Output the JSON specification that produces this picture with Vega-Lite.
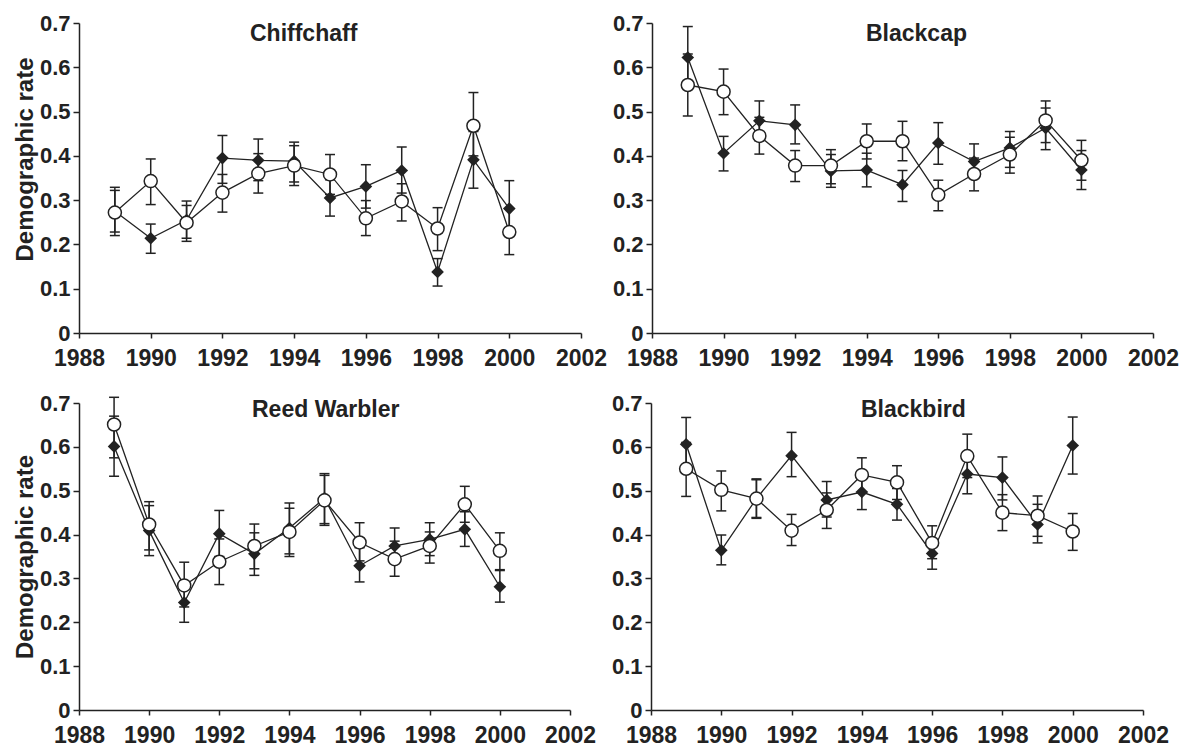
{
  "$schema": "https://vega.github.io/schema/vega-lite/v6.json",
  "padding": {"left": 13, "top": 12, "right": 0, "bottom": 0},
  "background": "white",
  "datasets": {
    "rates": [
      {"sp": "Chiffchaff", "yr": 1989, "s": "d", "v": 0.275, "lo": 0.220, "hi": 0.329},
      {"sp": "Chiffchaff", "yr": 1990, "s": "d", "v": 0.214, "lo": 0.180, "hi": 0.246},
      {"sp": "Chiffchaff", "yr": 1991, "s": "d", "v": 0.255, "lo": 0.214, "hi": 0.298},
      {"sp": "Chiffchaff", "yr": 1992, "s": "d", "v": 0.395, "lo": 0.338, "hi": 0.446},
      {"sp": "Chiffchaff", "yr": 1993, "s": "d", "v": 0.390, "lo": 0.344, "hi": 0.438},
      {"sp": "Chiffchaff", "yr": 1994, "s": "d", "v": 0.388, "lo": 0.341, "hi": 0.431},
      {"sp": "Chiffchaff", "yr": 1995, "s": "d", "v": 0.305, "lo": 0.264, "hi": 0.346},
      {"sp": "Chiffchaff", "yr": 1996, "s": "d", "v": 0.331, "lo": 0.282, "hi": 0.380},
      {"sp": "Chiffchaff", "yr": 1997, "s": "d", "v": 0.367, "lo": 0.316, "hi": 0.420},
      {"sp": "Chiffchaff", "yr": 1998, "s": "d", "v": 0.138, "lo": 0.106, "hi": 0.168},
      {"sp": "Chiffchaff", "yr": 1999, "s": "d", "v": 0.391, "lo": 0.327, "hi": 0.455},
      {"sp": "Chiffchaff", "yr": 2000, "s": "d", "v": 0.281, "lo": 0.220, "hi": 0.344},
      {"sp": "Chiffchaff", "yr": 1989, "s": "c", "v": 0.272, "lo": 0.228, "hi": 0.322},
      {"sp": "Chiffchaff", "yr": 1990, "s": "c", "v": 0.343, "lo": 0.290, "hi": 0.393},
      {"sp": "Chiffchaff", "yr": 1991, "s": "c", "v": 0.249, "lo": 0.207, "hi": 0.288},
      {"sp": "Chiffchaff", "yr": 1992, "s": "c", "v": 0.317, "lo": 0.273, "hi": 0.358},
      {"sp": "Chiffchaff", "yr": 1993, "s": "c", "v": 0.360, "lo": 0.316, "hi": 0.405},
      {"sp": "Chiffchaff", "yr": 1994, "s": "c", "v": 0.378, "lo": 0.333, "hi": 0.423},
      {"sp": "Chiffchaff", "yr": 1995, "s": "c", "v": 0.358, "lo": 0.313, "hi": 0.403},
      {"sp": "Chiffchaff", "yr": 1996, "s": "c", "v": 0.259, "lo": 0.220, "hi": 0.299},
      {"sp": "Chiffchaff", "yr": 1997, "s": "c", "v": 0.297, "lo": 0.253, "hi": 0.337},
      {"sp": "Chiffchaff", "yr": 1998, "s": "c", "v": 0.236, "lo": 0.186, "hi": 0.283},
      {"sp": "Chiffchaff", "yr": 1999, "s": "c", "v": 0.468, "lo": 0.400, "hi": 0.543},
      {"sp": "Chiffchaff", "yr": 2000, "s": "c", "v": 0.228, "lo": 0.177, "hi": 0.280},

      {"sp": "Blackcap", "yr": 1989, "s": "d", "v": 0.622, "lo": 0.553, "hi": 0.692},
      {"sp": "Blackcap", "yr": 1990, "s": "d", "v": 0.406, "lo": 0.366, "hi": 0.444},
      {"sp": "Blackcap", "yr": 1991, "s": "d", "v": 0.479, "lo": 0.434, "hi": 0.524},
      {"sp": "Blackcap", "yr": 1992, "s": "d", "v": 0.470, "lo": 0.427, "hi": 0.515},
      {"sp": "Blackcap", "yr": 1993, "s": "d", "v": 0.366, "lo": 0.329, "hi": 0.403},
      {"sp": "Blackcap", "yr": 1994, "s": "d", "v": 0.368, "lo": 0.330, "hi": 0.406},
      {"sp": "Blackcap", "yr": 1995, "s": "d", "v": 0.335, "lo": 0.297, "hi": 0.367},
      {"sp": "Blackcap", "yr": 1996, "s": "d", "v": 0.429, "lo": 0.381, "hi": 0.475},
      {"sp": "Blackcap", "yr": 1997, "s": "d", "v": 0.387, "lo": 0.350, "hi": 0.427},
      {"sp": "Blackcap", "yr": 1998, "s": "d", "v": 0.418, "lo": 0.374, "hi": 0.455},
      {"sp": "Blackcap", "yr": 1999, "s": "d", "v": 0.463, "lo": 0.414, "hi": 0.508},
      {"sp": "Blackcap", "yr": 2000, "s": "d", "v": 0.368, "lo": 0.324, "hi": 0.412},
      {"sp": "Blackcap", "yr": 1989, "s": "c", "v": 0.560, "lo": 0.490, "hi": 0.630},
      {"sp": "Blackcap", "yr": 1990, "s": "c", "v": 0.545, "lo": 0.493, "hi": 0.596},
      {"sp": "Blackcap", "yr": 1991, "s": "c", "v": 0.445, "lo": 0.404, "hi": 0.487},
      {"sp": "Blackcap", "yr": 1992, "s": "c", "v": 0.378, "lo": 0.342, "hi": 0.412},
      {"sp": "Blackcap", "yr": 1993, "s": "c", "v": 0.378, "lo": 0.337, "hi": 0.414},
      {"sp": "Blackcap", "yr": 1994, "s": "c", "v": 0.433, "lo": 0.393, "hi": 0.472},
      {"sp": "Blackcap", "yr": 1995, "s": "c", "v": 0.433, "lo": 0.389, "hi": 0.478},
      {"sp": "Blackcap", "yr": 1996, "s": "c", "v": 0.312, "lo": 0.276, "hi": 0.345},
      {"sp": "Blackcap", "yr": 1997, "s": "c", "v": 0.359, "lo": 0.321, "hi": 0.395},
      {"sp": "Blackcap", "yr": 1998, "s": "c", "v": 0.403, "lo": 0.361, "hi": 0.442},
      {"sp": "Blackcap", "yr": 1999, "s": "c", "v": 0.480, "lo": 0.430, "hi": 0.524},
      {"sp": "Blackcap", "yr": 2000, "s": "c", "v": 0.390, "lo": 0.345, "hi": 0.435},

      {"sp": "Reed Warbler", "yr": 1989, "s": "d", "v": 0.601, "lo": 0.533, "hi": 0.670},
      {"sp": "Reed Warbler", "yr": 1990, "s": "d", "v": 0.409, "lo": 0.352, "hi": 0.466},
      {"sp": "Reed Warbler", "yr": 1991, "s": "d", "v": 0.245, "lo": 0.200, "hi": 0.290},
      {"sp": "Reed Warbler", "yr": 1992, "s": "d", "v": 0.402, "lo": 0.350, "hi": 0.455},
      {"sp": "Reed Warbler", "yr": 1993, "s": "d", "v": 0.356, "lo": 0.307, "hi": 0.404},
      {"sp": "Reed Warbler", "yr": 1994, "s": "d", "v": 0.415, "lo": 0.356, "hi": 0.472},
      {"sp": "Reed Warbler", "yr": 1995, "s": "d", "v": 0.483, "lo": 0.425, "hi": 0.539},
      {"sp": "Reed Warbler", "yr": 1996, "s": "d", "v": 0.329, "lo": 0.292, "hi": 0.370},
      {"sp": "Reed Warbler", "yr": 1997, "s": "d", "v": 0.374, "lo": 0.335, "hi": 0.415},
      {"sp": "Reed Warbler", "yr": 1998, "s": "d", "v": 0.389, "lo": 0.352, "hi": 0.427},
      {"sp": "Reed Warbler", "yr": 1999, "s": "d", "v": 0.412, "lo": 0.373, "hi": 0.452},
      {"sp": "Reed Warbler", "yr": 2000, "s": "d", "v": 0.281, "lo": 0.246, "hi": 0.318},
      {"sp": "Reed Warbler", "yr": 1989, "s": "c", "v": 0.651, "lo": 0.575, "hi": 0.713},
      {"sp": "Reed Warbler", "yr": 1990, "s": "c", "v": 0.423, "lo": 0.365, "hi": 0.475},
      {"sp": "Reed Warbler", "yr": 1991, "s": "c", "v": 0.284, "lo": 0.235, "hi": 0.337},
      {"sp": "Reed Warbler", "yr": 1992, "s": "c", "v": 0.338, "lo": 0.286, "hi": 0.390},
      {"sp": "Reed Warbler", "yr": 1993, "s": "c", "v": 0.374, "lo": 0.322, "hi": 0.424},
      {"sp": "Reed Warbler", "yr": 1994, "s": "c", "v": 0.406, "lo": 0.350, "hi": 0.460},
      {"sp": "Reed Warbler", "yr": 1995, "s": "c", "v": 0.478, "lo": 0.421, "hi": 0.535},
      {"sp": "Reed Warbler", "yr": 1996, "s": "c", "v": 0.382, "lo": 0.340, "hi": 0.427},
      {"sp": "Reed Warbler", "yr": 1997, "s": "c", "v": 0.344, "lo": 0.305, "hi": 0.385},
      {"sp": "Reed Warbler", "yr": 1998, "s": "c", "v": 0.374, "lo": 0.335, "hi": 0.406},
      {"sp": "Reed Warbler", "yr": 1999, "s": "c", "v": 0.469, "lo": 0.428, "hi": 0.510},
      {"sp": "Reed Warbler", "yr": 2000, "s": "c", "v": 0.363, "lo": 0.320, "hi": 0.404},

      {"sp": "Blackbird", "yr": 1989, "s": "d", "v": 0.606, "lo": 0.545, "hi": 0.667},
      {"sp": "Blackbird", "yr": 1990, "s": "d", "v": 0.364, "lo": 0.331, "hi": 0.399},
      {"sp": "Blackbird", "yr": 1991, "s": "d", "v": 0.482, "lo": 0.439, "hi": 0.525},
      {"sp": "Blackbird", "yr": 1992, "s": "d", "v": 0.580, "lo": 0.532, "hi": 0.633},
      {"sp": "Blackbird", "yr": 1993, "s": "d", "v": 0.479, "lo": 0.440, "hi": 0.521},
      {"sp": "Blackbird", "yr": 1994, "s": "d", "v": 0.497, "lo": 0.457, "hi": 0.536},
      {"sp": "Blackbird", "yr": 1995, "s": "d", "v": 0.469, "lo": 0.433, "hi": 0.505},
      {"sp": "Blackbird", "yr": 1996, "s": "d", "v": 0.357, "lo": 0.321, "hi": 0.390},
      {"sp": "Blackbird", "yr": 1997, "s": "d", "v": 0.538, "lo": 0.493, "hi": 0.580},
      {"sp": "Blackbird", "yr": 1998, "s": "d", "v": 0.530, "lo": 0.479, "hi": 0.577},
      {"sp": "Blackbird", "yr": 1999, "s": "d", "v": 0.423, "lo": 0.381, "hi": 0.469},
      {"sp": "Blackbird", "yr": 2000, "s": "d", "v": 0.603, "lo": 0.538, "hi": 0.668},
      {"sp": "Blackbird", "yr": 1989, "s": "c", "v": 0.550, "lo": 0.487, "hi": 0.610},
      {"sp": "Blackbird", "yr": 1990, "s": "c", "v": 0.502, "lo": 0.454, "hi": 0.545},
      {"sp": "Blackbird", "yr": 1991, "s": "c", "v": 0.482, "lo": 0.437, "hi": 0.527},
      {"sp": "Blackbird", "yr": 1992, "s": "c", "v": 0.409, "lo": 0.375, "hi": 0.446},
      {"sp": "Blackbird", "yr": 1993, "s": "c", "v": 0.456, "lo": 0.414, "hi": 0.495},
      {"sp": "Blackbird", "yr": 1994, "s": "c", "v": 0.536, "lo": 0.497, "hi": 0.575},
      {"sp": "Blackbird", "yr": 1995, "s": "c", "v": 0.519, "lo": 0.480, "hi": 0.557},
      {"sp": "Blackbird", "yr": 1996, "s": "c", "v": 0.381, "lo": 0.345, "hi": 0.420},
      {"sp": "Blackbird", "yr": 1997, "s": "c", "v": 0.579, "lo": 0.530, "hi": 0.629},
      {"sp": "Blackbird", "yr": 1998, "s": "c", "v": 0.450, "lo": 0.409, "hi": 0.491},
      {"sp": "Blackbird", "yr": 1999, "s": "c", "v": 0.443, "lo": 0.396, "hi": 0.488},
      {"sp": "Blackbird", "yr": 2000, "s": "c", "v": 0.407, "lo": 0.364, "hi": 0.448}
    ]
  },
  "data": {"name": "rates"},
  "vconcat": [
    {
      "spacing": 5,
      "hconcat": [
        {
          "width": 502, "height": 310,
          "title": {"text": "Chiffchaff", "dx": 171, "offset": -34},
          "transform": [{"filter": "datum.sp == 'Chiffchaff'"}],
          "encoding": {"x": {"field": "yr", "type": "quantitative", "scale": {"domain": [1988, 2002], "nice": false, "zero": false}, "axis": {"values": [1988, 1990, 1992, 1994, 1996, 1998, 2000, 2002], "format": "d", "title": null}}},
          "layer": [
            {"mark": {"type": "line", "color": "#222", "strokeWidth": 1.3}, "encoding": {"y": {"field": "v", "type": "quantitative", "scale": {"domain": [0, 0.7], "nice": false}, "axis": {"values": [0, 0.1, 0.2, 0.3, 0.4, 0.5, 0.6, 0.7], "labelExpr": "datum.value == 0 ? '0' : format(datum.value, '.1f')", "title": "Demographic rate", "titleY": 136}}, "detail": {"field": "s"}}},
            {"mark": {"type": "rule", "color": "#222", "strokeWidth": 1.5}, "encoding": {"y": {"field": "lo", "type": "quantitative", "title": "Demographic rate"}, "y2": {"field": "hi"}}},
            {"mark": {"type": "point", "shape": "M-1,0L1,0", "size": 100, "filled": false, "stroke": "#222", "strokeWidth": 1.5, "opacity": 1}, "encoding": {"y": {"field": "lo", "type": "quantitative", "title": "Demographic rate"}}},
            {"mark": {"type": "point", "shape": "M-1,0L1,0", "size": 100, "filled": false, "stroke": "#222", "strokeWidth": 1.5, "opacity": 1}, "encoding": {"y": {"field": "hi", "type": "quantitative", "title": "Demographic rate"}}},
            {"transform": [{"filter": "datum.s == 'd'"}], "mark": {"type": "point", "shape": "diamond", "filled": true, "color": "#222", "size": 160, "opacity": 1}, "encoding": {"y": {"field": "v", "type": "quantitative", "title": "Demographic rate"}}},
            {"transform": [{"filter": "datum.s == 'c'"}], "mark": {"type": "point", "shape": "circle", "filled": true, "fill": "white", "stroke": "#222", "strokeWidth": 1.5, "size": 170, "opacity": 1}, "encoding": {"y": {"field": "v", "type": "quantitative", "title": "Demographic rate"}}}
          ]
        },
        {
          "width": 501, "height": 310,
          "title": {"text": "Blackcap", "dx": 214, "offset": -34},
          "transform": [{"filter": "datum.sp == 'Blackcap'"}],
          "encoding": {"x": {"field": "yr", "type": "quantitative", "scale": {"domain": [1988, 2002], "nice": false, "zero": false}, "axis": {"values": [1988, 1990, 1992, 1994, 1996, 1998, 2000, 2002], "format": "d", "title": null}}},
          "layer": [
            {"mark": {"type": "line", "color": "#222", "strokeWidth": 1.3}, "encoding": {"y": {"field": "v", "type": "quantitative", "scale": {"domain": [0, 0.7], "nice": false}, "axis": {"values": [0, 0.1, 0.2, 0.3, 0.4, 0.5, 0.6, 0.7], "labelExpr": "datum.value == 0 ? '0' : format(datum.value, '.1f')", "title": null}}, "detail": {"field": "s"}}},
            {"mark": {"type": "rule", "color": "#222", "strokeWidth": 1.5}, "encoding": {"y": {"field": "lo", "type": "quantitative", "title": null}, "y2": {"field": "hi"}}},
            {"mark": {"type": "point", "shape": "M-1,0L1,0", "size": 100, "filled": false, "stroke": "#222", "strokeWidth": 1.5, "opacity": 1}, "encoding": {"y": {"field": "lo", "type": "quantitative", "title": null}}},
            {"mark": {"type": "point", "shape": "M-1,0L1,0", "size": 100, "filled": false, "stroke": "#222", "strokeWidth": 1.5, "opacity": 1}, "encoding": {"y": {"field": "hi", "type": "quantitative", "title": null}}},
            {"transform": [{"filter": "datum.s == 'd'"}], "mark": {"type": "point", "shape": "diamond", "filled": true, "color": "#222", "size": 160, "opacity": 1}, "encoding": {"y": {"field": "v", "type": "quantitative", "title": null}}},
            {"transform": [{"filter": "datum.s == 'c'"}], "mark": {"type": "point", "shape": "circle", "filled": true, "fill": "white", "stroke": "#222", "strokeWidth": 1.5, "size": 170, "opacity": 1}, "encoding": {"y": {"field": "v", "type": "quantitative", "title": null}}}
          ]
        }
      ]
    },
    {
      "spacing": 15,
      "hconcat": [
        {
          "width": 491, "height": 307,
          "title": {"text": "Reed Warbler", "dx": 173, "offset": -30},
          "transform": [{"filter": "datum.sp == 'Reed Warbler'"}],
          "encoding": {"x": {"field": "yr", "type": "quantitative", "scale": {"domain": [1988, 2002], "nice": false, "zero": false}, "axis": {"values": [1988, 1990, 1992, 1994, 1996, 1998, 2000, 2002], "format": "d", "title": null}}},
          "layer": [
            {"mark": {"type": "line", "color": "#222", "strokeWidth": 1.3}, "encoding": {"y": {"field": "v", "type": "quantitative", "scale": {"domain": [0, 0.7], "nice": false}, "axis": {"values": [0, 0.1, 0.2, 0.3, 0.4, 0.5, 0.6, 0.7], "labelExpr": "datum.value == 0 ? '0' : format(datum.value, '.1f')", "title": "Demographic rate"}}, "detail": {"field": "s"}}},
            {"mark": {"type": "rule", "color": "#222", "strokeWidth": 1.5}, "encoding": {"y": {"field": "lo", "type": "quantitative", "title": "Demographic rate"}, "y2": {"field": "hi"}}},
            {"mark": {"type": "point", "shape": "M-1,0L1,0", "size": 100, "filled": false, "stroke": "#222", "strokeWidth": 1.5, "opacity": 1}, "encoding": {"y": {"field": "lo", "type": "quantitative", "title": "Demographic rate"}}},
            {"mark": {"type": "point", "shape": "M-1,0L1,0", "size": 100, "filled": false, "stroke": "#222", "strokeWidth": 1.5, "opacity": 1}, "encoding": {"y": {"field": "hi", "type": "quantitative", "title": "Demographic rate"}}},
            {"transform": [{"filter": "datum.s == 'd'"}], "mark": {"type": "point", "shape": "diamond", "filled": true, "color": "#222", "size": 160, "opacity": 1}, "encoding": {"y": {"field": "v", "type": "quantitative", "title": "Demographic rate"}}},
            {"transform": [{"filter": "datum.s == 'c'"}], "mark": {"type": "point", "shape": "circle", "filled": true, "fill": "white", "stroke": "#222", "strokeWidth": 1.5, "size": 170, "opacity": 1}, "encoding": {"y": {"field": "v", "type": "quantitative", "title": "Demographic rate"}}}
          ]
        },
        {
          "width": 492, "height": 307,
          "title": {"text": "Blackbird", "dx": 210, "offset": -30},
          "transform": [{"filter": "datum.sp == 'Blackbird'"}],
          "encoding": {"x": {"field": "yr", "type": "quantitative", "scale": {"domain": [1988, 2002], "nice": false, "zero": false}, "axis": {"values": [1988, 1990, 1992, 1994, 1996, 1998, 2000, 2002], "format": "d", "title": null}}},
          "layer": [
            {"mark": {"type": "line", "color": "#222", "strokeWidth": 1.3}, "encoding": {"y": {"field": "v", "type": "quantitative", "scale": {"domain": [0, 0.7], "nice": false}, "axis": {"values": [0, 0.1, 0.2, 0.3, 0.4, 0.5, 0.6, 0.7], "labelExpr": "datum.value == 0 ? '0' : format(datum.value, '.1f')", "title": null}}, "detail": {"field": "s"}}},
            {"mark": {"type": "rule", "color": "#222", "strokeWidth": 1.5}, "encoding": {"y": {"field": "lo", "type": "quantitative", "title": null}, "y2": {"field": "hi"}}},
            {"mark": {"type": "point", "shape": "M-1,0L1,0", "size": 100, "filled": false, "stroke": "#222", "strokeWidth": 1.5, "opacity": 1}, "encoding": {"y": {"field": "lo", "type": "quantitative", "title": null}}},
            {"mark": {"type": "point", "shape": "M-1,0L1,0", "size": 100, "filled": false, "stroke": "#222", "strokeWidth": 1.5, "opacity": 1}, "encoding": {"y": {"field": "hi", "type": "quantitative", "title": null}}},
            {"transform": [{"filter": "datum.s == 'd'"}], "mark": {"type": "point", "shape": "diamond", "filled": true, "color": "#222", "size": 160, "opacity": 1}, "encoding": {"y": {"field": "v", "type": "quantitative", "title": null}}},
            {"transform": [{"filter": "datum.s == 'c'"}], "mark": {"type": "point", "shape": "circle", "filled": true, "fill": "white", "stroke": "#222", "strokeWidth": 1.5, "size": 170, "opacity": 1}, "encoding": {"y": {"field": "v", "type": "quantitative", "title": null}}}
          ]
        }
      ]
    }
  ],
  "spacing": 22,
  "config": {
    "view": {"stroke": null},
    "font": "Liberation Sans",
    "axis": {
      "grid": false,
      "domainColor": "#222",
      "domainWidth": 1.5,
      "tickColor": "#222",
      "tickWidth": 1.5,
      "labelColor": "#222",
      "labelFont": "Liberation Sans",
      "labelFontWeight": "bold",
      "labelOverlap": false,
      "labelBound": false,
      "labelFlush": false,
      "titleColor": "#222",
      "titleFont": "Liberation Sans",
      "titleFontWeight": "bold",
      "titleFontSize": 24,
      "titlePadding": 2
    },
    "axisX": {"tickSize": 5, "labelPadding": 9, "labelFontSize": 23},
    "axisY": {"tickSize": 6, "labelPadding": 3, "labelFontSize": 22},
    "title": {
      "anchor": "start",
      "frame": "group",
      "baseline": "top",
      "font": "Liberation Sans",
      "fontWeight": "bold",
      "fontSize": 23,
      "color": "#222"
    }
  }
}
